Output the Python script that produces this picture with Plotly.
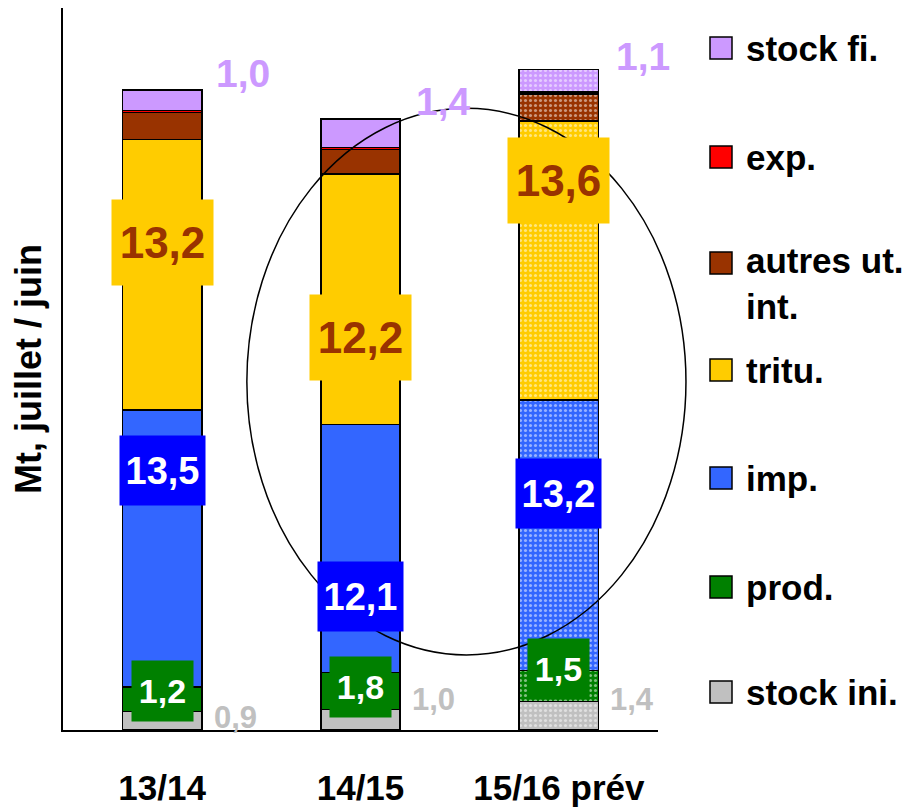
import plotly.graph_objects as go

# campagnes (juillet / juin), Mt
years = ["13/14", "14/15", "15/16 prév"]

stock_ini = [0.9, 1.0, 1.4]
prod = [1.2, 1.8, 1.5]
imp = [13.5, 12.1, 13.2]
tritu = [13.2, 12.2, 13.6]
autres = [1.3, 1.2, 1.3]
exp = [0.1, 0.1, 0.1]
stock_fi = [1.0, 1.4, 1.1]

names = ["stock ini.", "prod.", "imp.", "tritu.", "autres ut.<br>int.", "exp.", "stock fi."]
colors = ["#c0c0c0", "#008000", "#3366ff", "#ffcc00", "#993300", "#ff0000", "#cc99ff"]
series = [stock_ini, prod, imp, tritu, autres, exp, stock_fi]

FONT = "Liberation Sans, Arial, sans-serif"
hatch = ["", "", "."]  # prévision en pointillé


def fr(v):
    return f"{v:.1f}".replace(".", ",")


fig = go.Figure()
for name, vals, col in zip(names, series, colors):
    fig.add_trace(go.Bar(
        x=years, y=vals, name=name, width=0.4, showlegend=False,
        marker=dict(color=col, line=dict(color="black", width=1.5),
                    pattern=dict(shape=hatch, fgcolor="white", bgcolor=col,
                                 size=5, solidity=0.3)),
    ))

# bases of each segment
bases = []
run = [0.0] * len(years)
for vals in series:
    bases.append(run[:])
    run = [r + v for r, v in zip(run, vals)]
totals = run

annots = []

# boxed labels: prod, imp, tritu
boxed = [
    (1, "white", "#008000", 34, 59, 58, [8, 4, 17]),
    (2, "white", "#0000ff", 38, 83, 67, [78, -48, 42]),
    (3, "#993300", "#ffcc00", 44, 99, 83, [32, -38, 80]),
]
for idx, fcol, bg, fs, w, h, shifts in boxed:
    for i, yr in enumerate(years):
        mid = bases[idx][i] + series[idx][i] / 2
        annots.append(dict(x=yr, y=mid, text=fr(series[idx][i]), showarrow=False,
                           yshift=shifts[i], bgcolor=bg, width=w, height=h,
                           font=dict(family=FONT, size=fs, color=fcol, weight="bold")))

# stock ini labels beside bar
for i, yr in enumerate(years):
    mid = stock_ini[i] / 2
    annots.append(dict(x=yr, y=mid, text=fr(stock_ini[i]), showarrow=False,
                       xshift=73, yshift=[3, 20, 16][i],
                       font=dict(family=FONT, size=31, color="#c0c0c0", weight="bold")))

# stock fi labels beside bar top
for i, yr in enumerate(years):
    annots.append(dict(x=yr, y=totals[i], text=fr(stock_fi[i]), showarrow=False,
                       xshift=[81, 83, 84][i], yshift=[17, 17, 13][i],
                       font=dict(family=FONT, size=39, color="#cc99ff", weight="bold")))

# manual legend (top to bottom)
shapes = []
leg_y = [48, 157, 263, 370, 478, 587, 692]  # px from top of plot window
for k, (name, col) in enumerate(zip(names[::-1], colors[::-1])):
    yc = (730 - leg_y[k]) / 722
    shapes.append(dict(type="rect", xref="paper", yref="paper",
                       x0=(710 - 63) / 595, x1=(732 - 63) / 595,
                       y0=yc - 11 / 722, y1=yc + 11 / 722,
                       fillcolor=col, line=dict(color="black", width=1.5)))
    annots.append(dict(xref="paper", yref="paper", x=(744 - 63) / 595, y=yc,
                       xanchor="left", yanchor="middle", align="left",
                       text=name, showarrow=False,
                       yshift=-20 if "<br>" in name else 0,
                       font=dict(family=FONT, size=35, color="black", weight="bold")))

# ellipse around 14/15 and 15/16
shapes.append(dict(type="circle", xref="paper", yref="paper",
                   x0=0.309, x1=1.047, y0=0.104, y1=0.861,
                   line=dict(color="black", width=1.5), layer="above"))

fig.update_layout(
    barmode="stack",
    width=911, height=807,
    margin=dict(l=55, r=261, t=0, b=85),
    plot_bgcolor="white", paper_bgcolor="white",
    font=dict(family=FONT, color="black"),
    annotations=annots,
    shapes=shapes,
    bargap=0.6,
)
fig.update_xaxes(range=[-0.5, 2.5], showline=True, linecolor="black", linewidth=1.5,
                 showgrid=False, ticks="",
                 tickfont=dict(family=FONT, size=35, color="black", weight="bold"),
                 ticklabelstandoff=26)
fig.update_yaxes(range=[0, 35.2], showline=True, linecolor="black", linewidth=1.5,
                 showgrid=False, showticklabels=False, ticks="", zeroline=False,
                 title=dict(text="Mt, juillet / juin", standoff=10,
                            font=dict(family=FONT, size=36, color="black", weight="bold")))

fig.write_html("out.html")
